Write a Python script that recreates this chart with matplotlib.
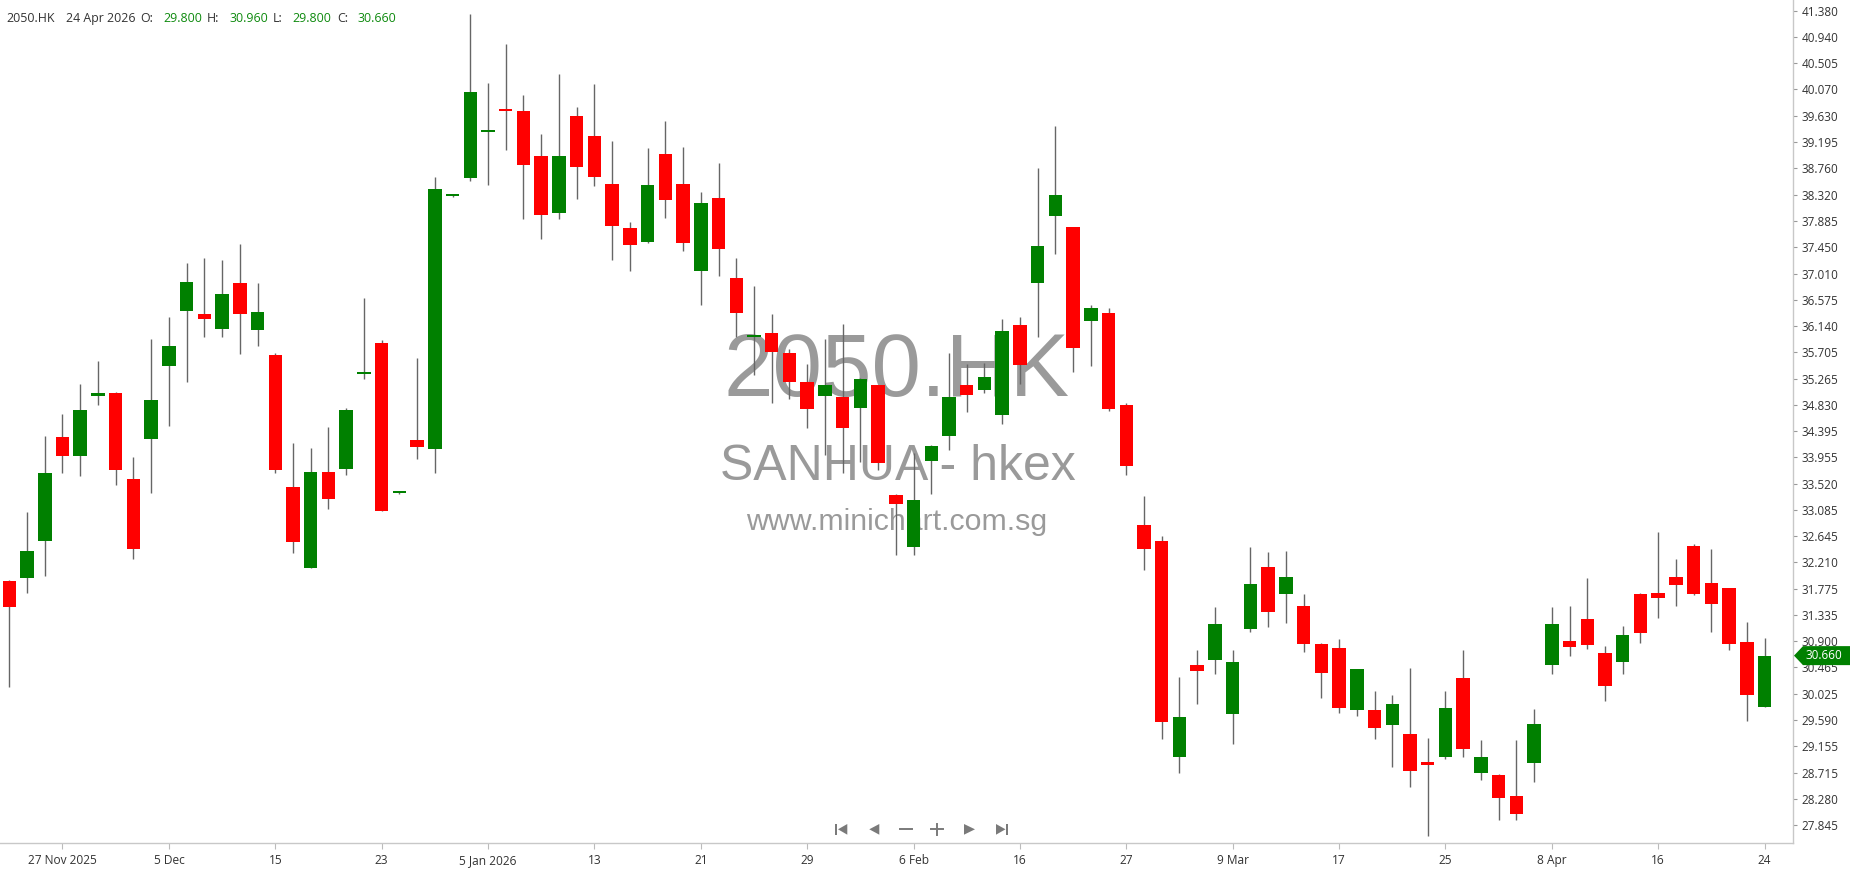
import matplotlib
matplotlib.use('Agg')
import matplotlib.pyplot as plt

plt.rcParams['font.family'] = ['Open Sans', 'DejaVu Sans']

symbol = '2050.HK'
name = 'SANHUA - hkex'
site = 'www.minichart.com.sg'
last_date = '24 Apr 2026'

# daily OHLC, 24 Nov 2025 .. 24 Apr 2026
opens = [31.90, 31.95, 32.57, 34.29, 33.97, 34.97, 35.02, 33.60, 34.26, 35.47,
         36.38, 36.33, 36.09, 36.85, 36.07, 35.66, 33.46, 32.12, 33.71, 33.76,
         35.34, 35.85, 33.36, 34.24, 34.09, 38.30, 38.59, 39.36, 39.72, 39.71,
         38.96, 38.02, 39.62, 39.29, 38.50, 37.77, 37.53, 38.99, 38.50, 37.05,
         38.26, 36.93, 35.95, 36.03, 35.69, 35.21, 34.97, 34.96, 34.77, 35.15,
         33.33, 32.47, 33.90, 34.31, 35.16, 35.07, 34.66, 36.16, 36.86, 37.97,
         37.78, 36.22, 36.35, 34.83, 32.83, 32.57, 28.98, 30.50, 30.58, 29.69,
         31.10, 32.14, 31.68, 31.49, 30.85, 30.78, 29.75, 29.76, 29.50, 29.35,
         28.88, 28.98, 30.28, 28.71, 28.68, 28.33, 28.88, 30.50, 30.91, 31.27,
         30.70, 30.56, 31.68, 31.70, 31.97, 32.49, 31.87, 31.78, 30.88, 29.80]
highs = [31.92, 33.04, 34.31, 34.67, 35.17, 35.56, 35.04, 33.96, 35.92, 36.29,
         37.18, 37.27, 37.23, 37.50, 36.85, 35.69, 34.19, 34.11, 34.46, 34.77,
         36.60, 35.90, 33.40, 35.60, 38.62, 38.32, 41.32, 40.17, 40.82, 39.98,
         39.33, 40.33, 39.78, 40.16, 39.22, 37.87, 39.10, 39.55, 39.12, 38.37,
         38.85, 37.27, 36.81, 36.33, 35.75, 35.50, 35.93, 36.17, 35.28, 35.16,
         33.34, 34.03, 34.16, 35.69, 35.50, 35.53, 36.25, 36.28, 38.77, 39.47,
         37.79, 36.49, 36.44, 34.86, 33.31, 32.65, 30.30, 30.75, 31.47, 30.75,
         32.47, 32.38, 32.40, 31.68, 30.87, 30.93, 30.43, 30.08, 30.00, 30.46,
         29.29, 30.07, 30.75, 29.25, 28.70, 29.25, 29.77, 31.46, 31.49, 31.95,
         30.82, 31.16, 31.70, 32.72, 32.26, 32.51, 32.43, 31.79, 31.22, 30.96]
lows = [30.14, 31.70, 31.99, 33.69, 33.65, 34.82, 33.49, 32.27, 33.36, 34.48,
        35.21, 35.95, 35.96, 35.67, 35.80, 33.69, 32.36, 32.11, 33.09, 33.67,
        35.26, 33.06, 33.35, 33.92, 33.69, 38.29, 38.54, 38.48, 39.07, 37.92,
        37.59, 37.92, 38.25, 38.46, 37.23, 37.06, 37.52, 37.94, 37.38, 36.49,
        36.97, 35.95, 35.32, 34.86, 34.92, 34.45, 34.00, 33.70, 33.87, 33.75,
        32.34, 32.34, 33.34, 34.08, 34.71, 35.02, 34.51, 35.18, 35.96, 37.34,
        35.37, 35.47, 34.72, 33.67, 32.09, 29.27, 28.71, 29.86, 30.35, 29.19,
        31.06, 31.14, 31.21, 30.72, 29.95, 29.70, 29.66, 29.27, 28.81, 28.48,
        27.67, 28.95, 28.98, 28.59, 27.92, 27.92, 28.56, 30.35, 30.66, 30.77,
        29.90, 30.35, 30.87, 31.28, 31.49, 31.66, 31.06, 30.75, 29.58, 29.80]
closes = [31.47, 32.40, 33.69, 33.97, 34.75, 35.02, 33.75, 32.43, 34.91, 35.80,
          36.87, 36.26, 36.67, 36.34, 36.37, 33.74, 32.55, 33.71, 33.26, 34.75,
          35.37, 33.07, 33.38, 34.13, 38.41, 38.31, 40.02, 39.37, 39.71, 38.82,
          37.99, 38.97, 38.78, 38.62, 37.80, 37.49, 38.48, 38.23, 37.51, 38.18,
          37.42, 36.36, 35.96, 35.70, 35.21, 34.76, 35.16, 34.45, 35.26, 33.86,
          33.18, 33.25, 34.15, 34.95, 34.99, 35.29, 36.06, 35.49, 37.46, 38.31,
          35.78, 36.44, 34.76, 33.81, 32.43, 29.56, 29.64, 30.41, 31.18, 30.55,
          31.85, 31.39, 31.97, 30.85, 30.37, 29.79, 30.43, 29.45, 29.85, 28.75,
          28.85, 29.79, 29.11, 28.98, 28.29, 28.02, 29.52, 31.18, 30.81, 30.83,
          30.15, 31.01, 31.04, 31.62, 31.83, 31.68, 31.52, 30.85, 30.00, 30.66]

date_labels = ['27 Nov 2025', '5 Dec', '15', '23', '5 Jan 2026', '13', '21', '29',
               '6 Feb', '16', '27', '9 Mar', '17', '25', '8 Apr', '16', '24']
price_labels = ['41.380', '40.940', '40.505', '40.070', '39.630', '39.195', '38.760',
                '38.320', '37.885', '37.450', '37.010', '36.575', '36.140', '35.705',
                '35.265', '34.830', '34.395', '33.955', '33.520', '33.085', '32.645',
                '32.210', '31.775', '31.335', '30.900', '30.465', '30.025', '29.590',
                '29.155', '28.715', '28.280', '27.845']

UP = '#008000'
DOWN = '#ff0000'
WICK = '#666666'

W, H = 1850, 874
plot_r, plot_b = 1793.3, 843.0
fig = plt.figure(figsize=(W / 100, H / 100), dpi=100)
ax = fig.add_axes([0, (H - plot_b) / H, plot_r / W, plot_b / H])

n = len(closes)
xs = list(range(n))
colors = [UP if c >= o else DOWN for o, c in zip(opens, closes)]
ax.vlines(xs, lows, highs, color=WICK, lw=1.0, zorder=2)
bottoms = [min(o, c) for o, c in zip(opens, closes)]
heights = [max(abs(c - o), 0.035) for o, c in zip(opens, closes)]
ax.bar(xs, heights, bottom=bottoms, width=0.76, color=colors, linewidth=0, zorder=3)

ax.set_xlim(-0.525, 100.62)
ax.set_ylim(27.546, 41.556)

ax.yaxis.tick_right()
ax.set_yticks([float(s) for s in price_labels])
ax.set_yticklabels(price_labels)
ax.tick_params(axis='y', length=3, width=0.8, color='#999999', pad=3,
               labelsize=8.5, labelcolor='#333333')
ax.set_xticks(list(range(3, n, 6)))
ax.set_xticklabels(date_labels)
ax.tick_params(axis='x', length=4, width=0.8, color='#bbbbbb', pad=4,
               labelsize=8.6, labelcolor='#333333')
for s in ['top', 'left']:
    ax.spines[s].set_visible(False)
for s in ['right', 'bottom']:
    ax.spines[s].set_color('#c8c8c8')
    ax.spines[s].set_linewidth(1.0)

# watermark behind the candles
wm = '#9a9a9a'
ax.text(897 / plot_r, (plot_b - 396) / plot_b, symbol, transform=ax.transAxes,
        ha='center', va='baseline', fontsize=64, color=wm,
        family='Liberation Sans', zorder=0)
ax.text(897.5 / plot_r, (plot_b - 480) / plot_b, name, transform=ax.transAxes,
        ha='center', va='baseline', fontsize=36, color=wm,
        family='Liberation Sans', zorder=0)
ax.text(897 / plot_r, (plot_b - 530) / plot_b, site, transform=ax.transAxes,
        ha='center', va='baseline', fontsize=21.8, color=wm,
        family='Liberation Sans', zorder=0)

# overlay in pixel coordinates
ov = fig.add_axes([0, 0, 1, 1])
ov.set_xlim(0, W)
ov.set_ylim(H, 0)
ov.axis('off')

val_c = '#0e8a0e'
lab_c = '#333333'
header = [(6, symbol, lab_c), (66, last_date, lab_c),
          (140, 'O:', lab_c), (163, f'{opens[-1]:.3f}', val_c),
          (207, 'H:', lab_c), (229, f'{highs[-1]:.3f}', val_c),
          (273, 'L:', lab_c), (292, f'{lows[-1]:.3f}', val_c),
          (337, 'C:', lab_c), (357, f'{closes[-1]:.3f}', val_c)]
for x, t, c in header:
    ov.text(x, 21.7, t, ha='left', va='baseline', fontsize=8.9, color=c)

# last price marker
fig.canvas.draw()
yd = ax.transData.transform((0, closes[-1]))[1]
yp = H - yd
hh = 9.5
ov.fill([1794, 1803, W, W, 1803], [yp, yp - hh, yp - hh, yp + hh, yp + hh],
        color=UP, lw=0, zorder=5)
ov.text(1805, yp, f'{closes[-1]:.3f}', ha='left', va='center', fontsize=8.5,
        color='white', zorder=6)

# navigation icons
nc = '#7a7a7a'
cy = 829.3
ov.fill([835, 837.3, 837.3, 835], [824, 824, 834.7, 834.7], color=nc, lw=0)
ov.fill([838, 847.3, 847.3], [cy, 824, 834.7], color=nc, lw=0)
ov.fill([869.3, 879.3, 879.3], [cy, 824, 834.7], color=nc, lw=0)
ov.plot([900, 912], [cy, cy], color=nc, lw=1.4)
ov.plot([931, 942.7], [cy, cy], color=nc, lw=1.4)
ov.plot([936.8, 936.8], [823.5, 835], color=nc, lw=1.4)
ov.fill([964, 964, 975], [824, 834.7, cy], color=nc, lw=0)
ov.fill([996, 996, 1005.5], [824, 834.7, cy], color=nc, lw=0)
ov.fill([1006, 1008.3, 1008.3, 1006], [824, 824, 834.7, 834.7], color=nc, lw=0)

fig.savefig('out.png', dpi=100)
